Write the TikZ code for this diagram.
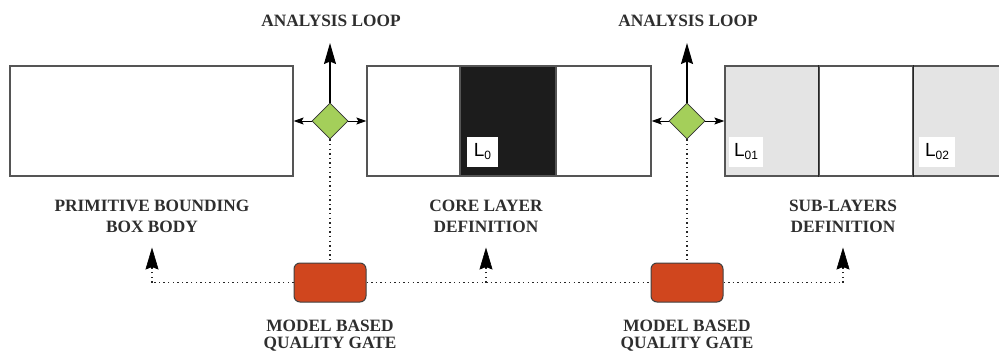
\documentclass[tikz,border=0pt]{standalone}
\usepackage{fontspec}
\setmainfont{Liberation Serif}
\newfontfamily\labfont{Liberation Sans}
\usetikzlibrary{shapes.geometric,arrows.meta}
\definecolor{gatered}{HTML}{D0461E}
\definecolor{diagreen}{HTML}{A4CF5A}
\definecolor{lgray}{HTML}{E4E4E4}
\definecolor{darkfill}{HTML}{1C1C1C}
\definecolor{edgec}{HTML}{555555}
\definecolor{txt}{HTML}{2E2E2E}
\tikzset{
  bigbox/.style={draw=edgec, line width=1.3pt, minimum height=110pt, inner sep=0pt},
  seg/.style={draw=edgec, line width=1.3pt, minimum height=110pt, inner sep=0pt},
  gate/.style={diamond, draw=black!80, fill=diagreen, line width=0.8pt, minimum width=36pt, minimum height=36pt, inner sep=0pt},
  qgate/.style={draw=black!75, fill=gatered, rounded corners=6pt, line width=1pt, minimum width=72pt, minimum height=39pt, inner sep=0pt},
  ttl/.style={text=txt, font=\bfseries\fontsize{17.3}{20.5}\selectfont, align=center, inner sep=0pt},
  ttlb/.style={text=txt, font=\bfseries\fontsize{17.3}{17}\selectfont, align=center, inner sep=0pt},
  lbl/.style={fill=white, inner sep=0pt, minimum height=30pt, font=\labfont\fontsize{19}{19}\selectfont},
  harrow/.style={-{Stealth[length=10pt,width=7pt,inset=2pt]}, line width=1pt},
  uarrow/.style={-{Stealth[length=21pt,width=12pt,inset=2.5pt]}, line width=1.2pt},
  headarrow/.style={solid, black, line width=1.4pt, -{Stealth[length=22pt,width=13pt,inset=2.5pt,line width=0.6pt]}},
  dots/.style={dash pattern=on 1.4pt off 3.2pt, line width=1.4pt, black!85},
}
\newcommand{\subz}[1]{\raisebox{-3pt}{\fontsize{12}{12}\selectfont #1}}
\begin{document}
\begin{tikzpicture}[x=1pt,y=-1pt]
\useasboundingbox (0,0) rectangle (999,356);
% boxes
\node[bigbox, minimum width=283pt] (box1) at (151.5,121) {};
\node[bigbox, minimum width=284pt] (box2) at (509,121) {};
\node[seg, fill=darkfill, minimum width=96pt] (core) at (508,121) {};
\node[seg, fill=lgray, minimum width=94pt] (s1) at (772,121) {};
\node[seg, fill=white, minimum width=94pt] (s2) at (866,121) {};
\node[seg, fill=lgray, minimum width=94pt] (s3) at (960,121) {};
\draw[edgec, line width=1.3pt] (s1.south west) -- (s3.south east);
\draw[black!85, line width=1.6pt] (s2.north west) -- (s2.south west) (s2.north east) -- (s2.south east);
% labels in boxes
\node[lbl, minimum width=31pt] (l0) at (482.5,152) {L\subz{0}};
\node[lbl, minimum width=34pt] (l01) at (746,152) {L\subz{01}};
\node[lbl, minimum width=36pt] (l02) at (937,152) {L\subz{02}};
% diamonds
\node[gate] (d1) at (330,121) {};
\node[gate] (d2) at (687,121) {};
\node[ttl] (al1) at (331,21) {ANALYSIS LOOP};
\node[ttl] (al2) at (688,21) {ANALYSIS LOOP};
\coordinate (t1) at (330,43);
\coordinate (t2) at (687,43);
\draw[uarrow] (d1.north) -- (t1);
\draw[uarrow] (d2.north) -- (t2);
\draw[harrow] (d1.west) -- (box1.east |- d1.west);
\draw[harrow] (d1.east) -- (box2.west |- d1.east);
\draw[harrow] (d2.west) -- (box2.east |- d2.west);
\draw[harrow] (d2.east) -- (s1.west |- d2.east);
% quality gates
\node[qgate] (q1) at (330,282.5) {};
\node[qgate] (q2) at (687,282.5) {};
\draw[dots] (d1.south) -- (q1.north);
\draw[dots] (d2.south) -- (q2.north);
% bottom labels
\node[ttl] (p1) at (152,216.5) {PRIMITIVE BOUNDING\\BOX BODY};
\node[ttl] (p2) at (486,216.5) {CORE LAYER\\DEFINITION};
\node[ttl] (p3) at (843,216.5) {SUB-LAYERS\\DEFINITION};
\node[ttlb] (m1) at (330,336) {MODEL BASED\\QUALITY GATE};
\node[ttlb] (m2) at (687,336) {MODEL BASED\\QUALITY GATE};
\coordinate (c1) at (152,282.5);
\coordinate (c2) at (486,282.5);
\coordinate (c3) at (843,282.5);
\coordinate (h1) at (152,268);
\coordinate (h2) at (486,268);
\coordinate (h3) at (843,268);
\coordinate (a1) at (152,247.5);
\coordinate (a2) at (486,247.5);
\coordinate (a3) at (843,247.5);
\draw[dots] (q1.west) -- (c1);
\draw[dots] (q1.east) -- (q2.west);
\draw[dots] (q2.east) -- (c3);
\draw[dots] (c1) -- (h1);
\draw[dots] (c2) -- (h2);
\draw[dots] (c3) -- (h3);
\draw[headarrow] (h1) -- (a1);
\draw[headarrow] (h2) -- (a2);
\draw[headarrow] (h3) -- (a3);
\end{tikzpicture}
\end{document}
